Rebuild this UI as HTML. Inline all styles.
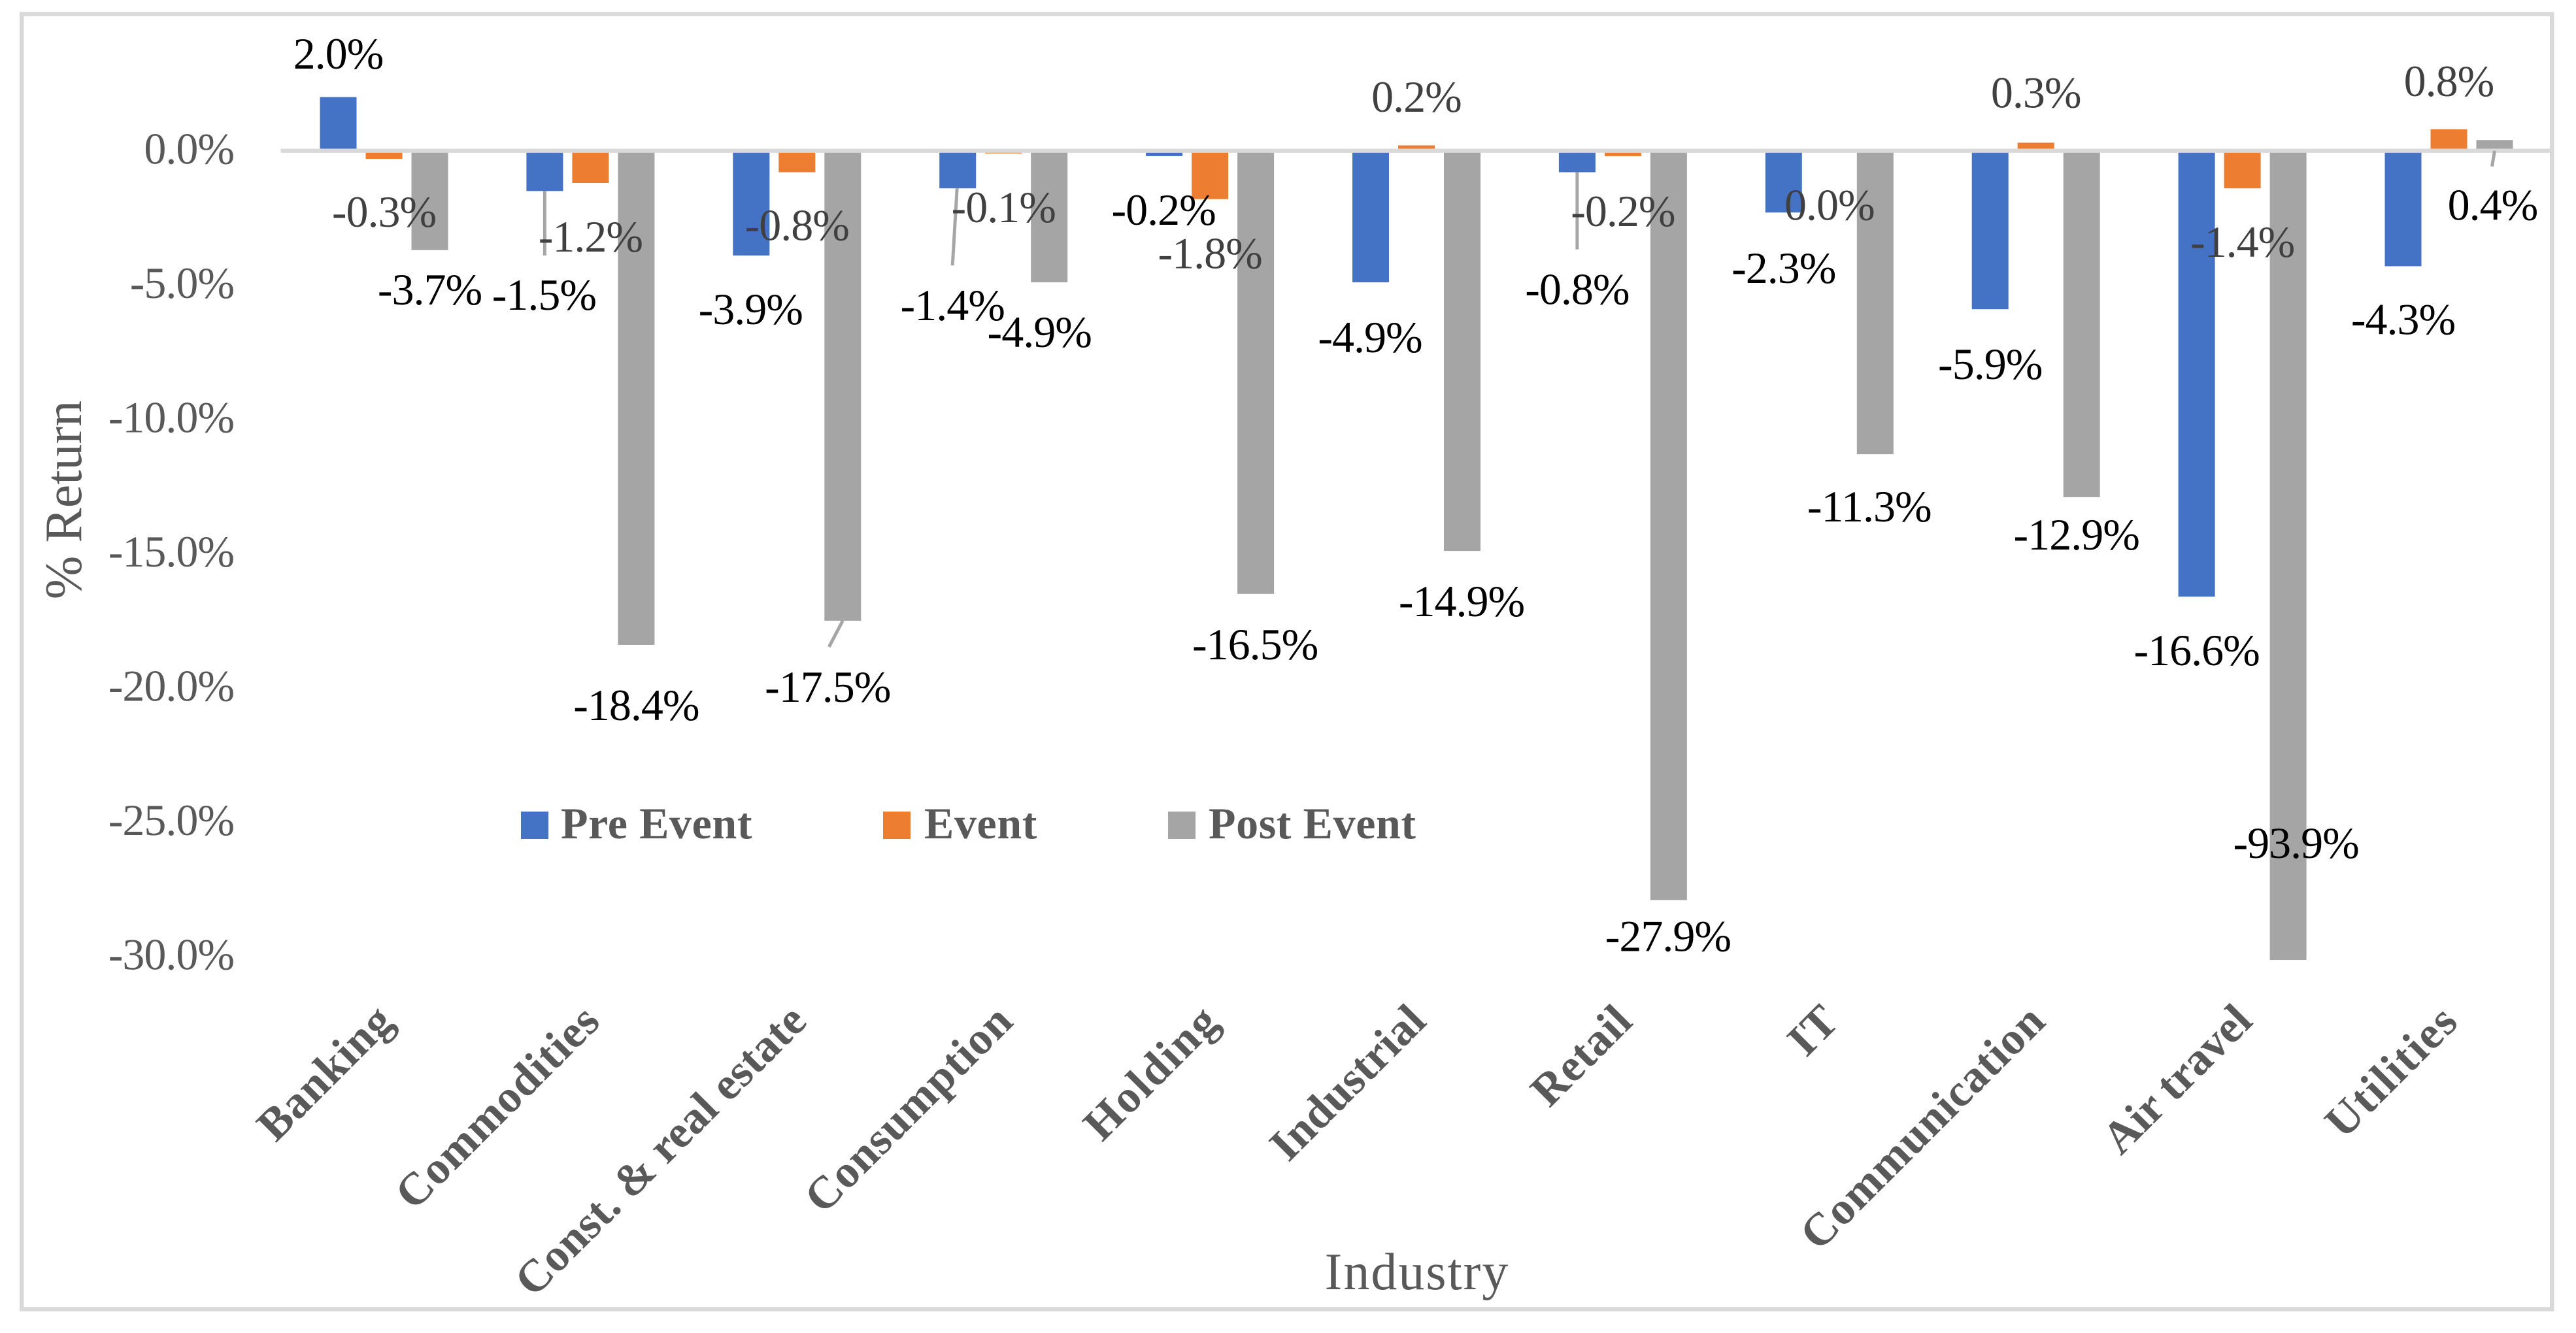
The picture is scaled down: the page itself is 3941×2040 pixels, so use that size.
<!DOCTYPE html>
<html lang="en">
<head>
<meta charset="utf-8">
<title>Return by Industry</title>
<style>
  html, body { margin: 0; padding: 0; background: #ffffff; }
  svg { display: block; }
  text { font-family: "Liberation Serif", "DejaVu Serif", serif; }
  .tick { font-size: 68px; fill: #595959; letter-spacing: -1px; text-anchor: end; }
  .value { font-size: 68px; letter-spacing: -1px; text-anchor: middle; }
  .cat { font-size: 70px; font-weight: bold; fill: #595959; text-anchor: end; }
  .legend-text { font-size: 68px; font-weight: bold; fill: #595959; letter-spacing: 0.6px; }
  .axis-title { font-size: 80px; fill: #595959; text-anchor: middle; }
</style>
</head>
<body>
<svg id="chart" xmlns="http://www.w3.org/2000/svg" width="3941" height="2040" viewBox="0 0 3941 2040">
  <rect x="0" y="0" width="3941" height="2040" fill="#ffffff"></rect>
  <rect x="33.2" y="21.5" width="3871" height="1982" fill="none" stroke="#d9d9d9" stroke-width="6.5"></rect>
  <g id="bars"></g>
  <g id="axis"></g>
  <g id="leaders"></g>
  <g id="labels"></g>
  <text class="axis-title" transform="translate(124 765) rotate(-90)">% Return</text>
  <text class="axis-title" x="2168" y="1973" style="letter-spacing:2px">Industry</text>
  <g>
    <g>
      <rect x="797" y="1242" width="42" height="42" fill="#4472C4"></rect>
      <text class="legend-text" x="858" y="1283">Pre Event</text>
    </g>
    <g>
      <rect x="1351" y="1242" width="42" height="42" fill="#ED7D31"></rect>
      <text class="legend-text" x="1414" y="1283">Event</text>
    </g>
    <g>
      <rect x="1787" y="1242" width="42" height="42" fill="#A5A5A5"></rect>
      <text class="legend-text" x="1849" y="1283">Post Event</text>
    </g>
  </g>
</svg>
<script>
// ---- Chart data ----
const categories = ["Banking", "Commodities", "Const. & real estate", "Consumption", "Holding", "Industrial", "Retail", "IT", "Communication", "Air travel", "Utilities"];
const preEvent = [2.0, -1.5, -3.9, -1.4, -0.2, -4.9, -0.8, -2.3, -5.9, -16.6, -4.3];
const eventWindow = [-0.3, -1.2, -0.8, -0.1, -1.8, 0.2, -0.2, 0.0, 0.3, -1.4, 0.8];
const postEvent = [-3.7, -18.4, -17.5, -4.9, -16.5, -14.9, -27.9, -11.3, -12.9, -93.9, 0.4];
const yTicks = [0, -5, -10, -15, -20, -25, -30];

// ---- Axis functions ----
const AXIS_FLOOR = -30.13;
function yScale(v) { return 230.7 - 41.1 * Math.max(v, AXIS_FLOOR); }
function xCenter(i) { return 587.5 + 315.9 * i; }
const BAR_W = 56;
const BAR_STEP = 70;

// ---- Manual label placement from the figure (offset from the bar's end) ----
const seriesLayout = [
  { key: "pre-event", values: preEvent, fill: "#4472C4", shift: -1, ink: "#000000",
    dx: [0,-1,-1,-8,-1,-1,0,0,0,0,0],
    dy: [-67.5,157.6,81,178,81,83,178,84,83,81,80] },
  { key: "event", values: eventWindow, fill: "#ED7D31", shift: 0, ink: "#404040",
    dx: [0,0,0,0,0,0,0,0,0,0,0],
    dy: [80,81,80,81,82,-75.5,83,82,-78,81,-75] },
  { key: "post-event", values: postEvent, fill: "#A5A5A5", shift: 1, ink: "#000000",
    dx: [0,0,-23,-15,-1,-1,-1,-9,-8,12,-3],
    dy: [59,91,100,75,76,76,54,79,56,-180,98] }
];
const leaderLayout = [
  { series: 0, cat: 1, fromDx: 0, toDx: 0, len: 98.6, fromBase: false },
  { series: 0, cat: 3, fromDx: -1, toDx: -8, len: 118, fromBase: false },
  { series: 0, cat: 6, fromDx: 0, toDx: 0, len: 118, fromBase: false },
  { series: 2, cat: 2, fromDx: 0, toDx: -21, len: 40, fromBase: false },
  { series: 2, cat: 10, fromDx: 0, toDx: -4, len: 24, fromBase: true }
];
// Glyph-width compensation for the substitute font, one per category label
const catTracking = [1, 1, 0.3, 1, 2.5, 0.3, 1, 1, 1, -0.4, 2.2];

const NS = "http://www.w3.org/2000/svg";
const barsGroup = document.getElementById("bars");
const axisGroup = document.getElementById("axis");
const leadersGroup = document.getElementById("leaders");
const labelsGroup = document.getElementById("labels");

function slug(s) { return s.toLowerCase().replace(/[^a-z0-9]+/g, "-").replace(/^-|-$/g, ""); }
function pct(v) { return v.toFixed(1) + "%"; }

// Bars
seriesLayout.forEach(function (s) {
  s.values.forEach(function (v, i) {
    const cx = xCenter(i) + s.shift * BAR_STEP;
    const y0 = yScale(0);
    const y1 = yScale(v);
    const r = document.createElementNS(NS, "rect");
    r.setAttribute("x", cx - BAR_W / 2);
    r.setAttribute("y", Math.min(y0, y1));
    r.setAttribute("width", BAR_W);
    r.setAttribute("height", Math.abs(y1 - y0));
    r.setAttribute("fill", s.fill);
    
    
    barsGroup.appendChild(r);
  });
});

// Zero line
const zeroLine = document.createElementNS(NS, "line");
zeroLine.setAttribute("x1", xCenter(0) - 315.9 / 2);
zeroLine.setAttribute("x2", 3905);
zeroLine.setAttribute("y1", yScale(0));
zeroLine.setAttribute("y2", yScale(0));
zeroLine.setAttribute("stroke", "#d9d9d9");
zeroLine.setAttribute("stroke-width", "6.3");


axisGroup.appendChild(zeroLine);

// Y tick labels
yTicks.forEach(function (t) {
  const el = document.createElementNS(NS, "text");
  el.setAttribute("class", "tick");
  el.setAttribute("x", 358);
  el.setAttribute("y", yScale(t) + 20);
  el.textContent = t.toFixed(1) + "%";
  
  
  axisGroup.appendChild(el);
});

// Category labels
categories.forEach(function (c, i) {
  const el = document.createElementNS(NS, "text");
  el.setAttribute("class", "cat");
  el.setAttribute("transform", "translate(" + (xCenter(i) + 18) + " 1566) rotate(-45)");
  el.setAttribute("style", "letter-spacing:" + catTracking[i] + "px");
  el.textContent = c;
  
  
  axisGroup.appendChild(el);
});

// Leader lines
leaderLayout.forEach(function (l) {
  const s = seriesLayout[l.series];
  const cx = xCenter(l.cat) + s.shift * BAR_STEP;
  const start = l.fromBase ? yScale(0) : yScale(s.values[l.cat]);
  const ln = document.createElementNS(NS, "line");
  ln.setAttribute("x1", cx + l.fromDx);
  ln.setAttribute("y1", start);
  ln.setAttribute("x2", cx + l.toDx);
  ln.setAttribute("y2", start + l.len);
  ln.setAttribute("stroke", "#a6a6a6");
  ln.setAttribute("stroke-width", "5");
  
  
  leadersGroup.appendChild(ln);
});

// Value labels
seriesLayout.forEach(function (s) {
  s.values.forEach(function (v, i) {
    const cx = xCenter(i) + s.shift * BAR_STEP + s.dx[i];
    const cy = yScale(v) + s.dy[i];
    const el = document.createElementNS(NS, "text");
    el.setAttribute("class", "value");
    el.setAttribute("x", cx);
    el.setAttribute("y", cy + 24);
    el.setAttribute("fill", s.ink);
    el.textContent = pct(v);
    
    
    labelsGroup.appendChild(el);
  });
});
</script>
</body>
</html>
